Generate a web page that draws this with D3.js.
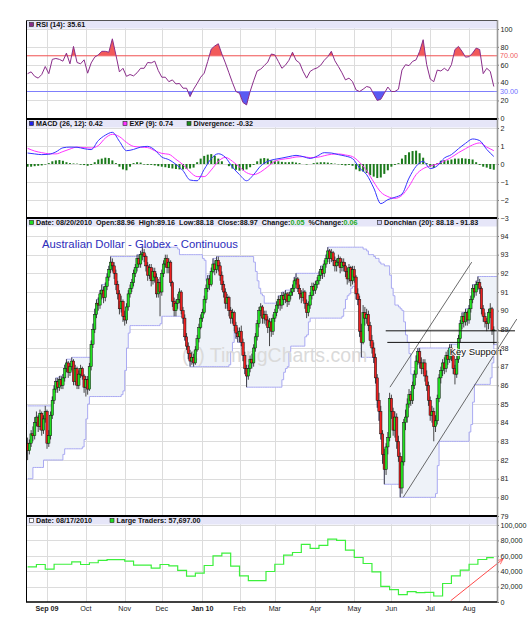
<!DOCTYPE html>
<html>
<head>
<meta charset="utf-8">
<title>Australian Dollar - Globex - Continuous</title>
<script src="https://d3js.org/d3.v7.min.js"></script>
<style>
  body { margin: 0; background: #fff; }
  svg text { font-family: "Liberation Sans", Arial, sans-serif; }
</style>
</head>
<body>
<svg id="chart" width="527" height="625"></svg>
<script>
// ---- data ----
// daily candles, one value per weekday from Aug 17 2009 to Aug 20 2010
var firstOpen = 82.9;
var closes = [
  82.5, 82.9, 83.4, 83.3, 84.0,  84.3, 83.8, 84.5, 83.6, 84.2,  84.6, 82.9, 83.3, 84.4, 85.2,
  85.8, 86.2, 85.9, 86.3, 86.0,  86.4, 86.9, 87.2, 86.7, 87.0,  87.3, 86.2, 86.9, 86.0, 86.6,
  86.9, 86.5, 85.9, 86.3, 85.8,  87.0, 88.2, 89.0, 89.8, 90.4,  90.3, 90.9, 91.1, 90.7, 91.3,
  91.8, 92.2, 92.6, 92.4, 92.0,  91.4, 90.9, 90.1, 90.5, 89.7,  89.5, 90.2, 90.9, 91.2, 91.5,
  92.0, 92.3, 92.8, 92.5, 93.0,  93.1, 92.9, 92.4, 91.9, 92.3,  91.6, 92.1, 91.8, 90.9, 91.5,
  91.0, 92.0, 92.5, 92.8, 92.3,  92.6, 91.5, 90.5, 90.0, 90.4,  90.6, 91.0, 90.0, 89.6, 88.6,
  88.1, 87.7, 87.3, 87.5, 87.2,  87.9, 88.5, 89.1, 89.6, 89.9,  90.6, 91.2, 91.7, 91.4, 92.1,
  92.5, 92.2, 92.7, 92.4, 91.9,  91.4, 91.0, 90.4, 90.7, 90.0,  89.6, 89.9, 89.2, 88.8, 88.6,
  88.9, 88.3, 87.6, 86.9, 86.5,  86.9, 87.4, 87.2, 88.0, 88.6,  89.3, 90.0, 90.2, 89.6, 89.8,
  89.5, 89.1, 89.4, 88.9, 89.6,  89.9, 90.3, 90.6, 90.3, 90.8,  90.6, 90.9, 90.5, 90.8, 91.0,
  91.2, 91.6, 91.7, 91.2, 90.9,  90.7, 91.0, 90.4, 89.9, 90.3,  90.8, 91.3, 91.1, 91.4, 91.6,
  91.9, 92.2, 92.0, 92.5, 92.8,  93.2, 92.8, 93.1, 92.7, 92.4,  92.6, 92.8, 92.3, 92.6, 92.4,
  92.1, 91.7, 92.3, 91.6, 92.2,  91.8, 90.9, 90.6, 88.9, 88.3,  89.9, 89.6, 89.8, 89.2, 88.4,
  88.0, 87.5, 86.4, 85.2, 84.6,  83.4, 82.3, 81.5, 82.7, 83.2,  85.3, 84.6, 83.6, 84.3, 83.0,
  82.2, 80.5, 81.9, 84.0, 84.3,  85.0, 85.5, 85.2, 86.0, 86.6,  87.3, 87.8, 87.2, 86.9, 87.2,
  86.5, 86.0, 85.2, 84.4, 84.6,  83.8, 84.1, 85.3, 86.4, 86.8,  87.2, 86.9, 87.6, 87.4, 88.0,
  87.6, 86.9, 86.6, 87.4, 88.5,  89.3, 89.7, 89.4, 89.9, 89.5,  90.1, 90.6, 91.2, 91.0, 91.4,
  91.5, 91.2, 90.1, 89.7, 89.4,  89.3, 89.9, 90.1, 88.92, 88.97
];
var highs = [
  83.2, 83.1, 83.6, 83.8, 84.3,  84.6, 84.4, 84.7, 84.6, 84.4,  84.9, 84.7, 83.6, 84.6, 85.4,
  86.0, 86.4, 86.4, 86.5, 86.5,  86.6, 87.1, 87.4, 87.3, 87.2,  87.5, 87.4, 87.1, 87.0, 86.8,
  87.1, 87.0, 86.6, 86.5, 86.5,  87.2, 88.4, 89.3, 90.1, 90.6,  90.7, 91.1, 91.4, 91.3, 91.5,
  92.0, 92.4, 92.9, 92.8, 92.6,  92.2, 91.6, 91.1, 90.8, 90.6,  90.0, 90.4, 91.1, 91.4, 91.7,
  92.2, 92.5, 93.0, 93.0, 93.2,  93.4, 93.3, 93.0, 92.6, 92.5,  92.5, 92.3, 92.3, 92.0, 91.7,
  91.8, 92.2, 92.7, 93.0, 93.0,  92.8, 92.7, 91.6, 90.7, 90.6,  90.9, 91.2, 91.1, 90.2, 89.8,
  88.8, 88.3, 87.9, 87.8, 87.7,  88.1, 88.7, 89.3, 89.8, 90.1,  90.8, 91.4, 91.9, 91.9, 92.3,
  92.8, 92.7, 92.9, 92.9, 92.6,  92.1, 91.6, 91.2, 90.9, 90.8,  90.2, 90.1, 90.0, 89.4, 89.1,
  89.1, 89.2, 88.5, 87.8, 87.1,  87.1, 87.6, 87.7, 88.2, 88.8,  89.5, 90.2, 90.4, 90.3, 90.0,
  90.0, 89.7, 89.6, 89.6, 89.8,  90.1, 90.5, 90.8, 90.8, 91.0,  91.0, 91.1, 91.0, 91.0, 91.2,
  91.4, 91.8, 92.0, 91.8, 91.4,  91.1, 91.2, 91.1, 90.6, 90.5,  91.0, 91.5, 91.5, 91.6, 91.8,
  92.1, 92.4, 92.4, 92.7, 93.0,  93.4, 93.3, 93.3, 93.2, 92.9,  92.8, 93.0, 92.9, 92.8, 92.8,
  92.6, 92.3, 92.5, 92.4, 92.4,  92.4, 91.9, 91.2, 90.8, 89.3,  90.3, 90.2, 90.1, 90.0, 89.4,
  88.7, 88.3, 87.7, 86.6, 85.6,  84.9, 83.6, 82.6, 82.9, 83.5,  85.6, 85.5, 84.8, 84.6, 84.5,
  83.3, 82.4, 82.2, 84.2, 84.7,  85.3, 85.8, 85.7, 86.2, 86.8,  87.6, 88.0, 88.0, 87.5, 87.4,
  87.4, 86.8, 86.2, 85.4, 84.9,  84.8, 84.4, 85.5, 86.6, 87.0,  87.4, 87.5, 87.8, 87.9, 88.2,
  88.2, 87.8, 87.1, 87.6, 88.7,  89.5, 89.9, 89.9, 90.1, 90.0,  90.3, 90.8, 91.4, 91.4, 91.6,
  91.83, 91.7, 91.3, 90.3, 89.9,  89.6, 90.1, 90.4, 90.2, 89.16
];
var lows = [
  82.0, 82.3, 82.7, 83.0, 83.1,  83.8, 83.5, 83.6, 83.3, 83.4,  84.0, 82.6, 82.7, 83.1, 84.2,
  85.0, 85.6, 85.6, 85.7, 85.8,  85.8, 86.2, 86.7, 86.4, 86.5,  86.8, 86.0, 86.0, 85.8, 85.8,
  86.4, 86.3, 85.6, 85.4, 85.5,  85.7, 86.8, 88.0, 88.8, 89.6,  90.0, 90.1, 90.6, 90.4, 90.5,
  91.1, 91.6, 92.0, 92.1, 91.7,  91.1, 90.6, 89.8, 89.9, 89.4,  89.2, 89.3, 90.0, 90.7, 91.0,
  91.3, 91.8, 92.1, 92.3, 92.3,  92.7, 92.6, 92.1, 91.6, 91.7,  91.3, 91.4, 91.5, 90.7, 90.7,
  89.7, 90.8, 91.8, 92.3, 92.0,  92.0, 91.3, 90.2, 89.7, 89.7,  90.1, 90.4, 89.8, 89.3, 88.4,
  87.9, 87.4, 87.0, 87.1, 87.0,  87.1, 87.8, 88.3, 89.0, 89.4,  89.8, 90.4, 91.0, 91.1, 91.3,
  92.0, 91.9, 92.0, 92.1, 91.6,  91.1, 90.7, 90.1, 90.1, 89.7,  89.3, 89.3, 88.9, 88.5, 88.3,
  88.3, 88.1, 87.3, 86.6, 85.9,  86.3, 86.7, 86.9, 87.0, 87.8,  88.4, 89.1, 89.7, 89.3, 89.3,
  89.2, 88.8, 88.1, 88.6, 88.7,  89.4, 89.7, 90.1, 90.0, 90.1,  90.3, 90.4, 90.2, 90.3, 90.6,
  90.8, 91.0, 91.4, 91.0, 90.6,  90.4, 90.5, 90.1, 89.6, 89.7,  90.1, 90.6, 90.8, 90.9, 91.2,
  91.4, 91.7, 91.7, 91.8, 92.3,  92.6, 92.5, 92.6, 92.4, 92.1,  92.1, 92.4, 92.0, 92.1, 92.1,
  91.8, 91.4, 91.5, 91.3, 91.4,  91.5, 90.6, 90.3, 88.6, 87.5,  88.2, 89.2, 89.3, 88.9, 88.1,
  87.7, 87.2, 86.1, 84.8, 84.1,  83.1, 81.8, 80.7, 81.2, 82.3,  83.0, 84.2, 83.3, 83.2, 82.6,
  81.9, 80.0, 80.2, 81.7, 83.6,  84.0, 84.8, 84.9, 85.0, 85.8,  86.4, 87.1, 86.9, 86.6, 86.6,
  86.2, 85.7, 84.9, 84.1, 84.0,  83.0, 83.5, 83.9, 85.1, 86.1,  86.5, 86.6, 86.7, 87.1, 87.2,
  87.3, 86.6, 86.05, 86.4, 87.2,  88.3, 89.0, 89.1, 89.2, 89.2,  89.3, 89.9, 90.4, 90.7, 90.8,
  91.1, 90.9, 89.8, 89.4, 89.1,  88.9, 89.0, 89.6, 88.7, 88.18
];
// the 19 sessions before the first candle (only feed the 20-day Donchian channel)
var priorHighs = [82.6, 82.4, 81.9, 82.3, 82.9, 83.1, 83.4, 82.8, 83.6, 84.0, 83.9, 84.3, 84.6, 84.9, 84.5, 84.2, 83.8, 83.5, 83.2];
var priorLows  = [81.8, 81.4, 81.0, 81.7, 81.9, 82.0, 81.9, 82.3, 81.6, 82.7, 83.2, 83.4, 83.7, 84.0, 83.6, 83.3, 82.9, 82.6, 82.4];

// RSI (14), every 2nd session
var rsiEvery2 = [
  50, 52, 47, 45, 49, 58, 50, 66, 67, 66,
  64, 73, 61, 80.5, 62.5, 61, 65.5, 50.5, 62, 68.5,
  71, 75, 75, 74, 89, 71, 52, 56, 47, 49,
  47.5, 51, 56, 56, 62.5, 62, 64, 53.5, 46, 46,
  41, 43, 38.5, 39, 33.7, 33.7, 24.3, 32.6, 39, 46,
  50.5, 63.7, 77.5, 81, 83.5, 72, 62, 51, 40, 30,
  28, 17.6, 15, 30, 42, 53, 55, 59, 63, 72,
  71, 63.7, 56, 59.5, 65, 74, 65, 62, 52.5, 45,
  52.5, 55, 56.5, 59.5, 65, 69, 75, 64.4, 58, 51,
  43, 45, 41, 31.8, 30, 32.6, 35.6, 34.5, 27, 20,
  21.3, 28, 35, 30, 30, 32.6, 54, 60, 59, 63.7,
  65.5, 75, 88, 60, 44, 41, 54, 53, 56, 53,
  60, 77, 80.5, 75, 68.5, 69, 73, 78.6, 77, 50,
  56, 52.5, 35.61
];
// MACD (26,12) and its EXP (9), every 4th session
var macdEvery4 = [
  0.61, 0.56, 0.52, 0.54, 0.67, 0.9, 0.94, 0.93, 0.85, 0.8,
  1.3, 1.6, 1.76, 1.26, 0.74, 0.81, 0.94, 0.98, 0.78, 0.39,
  0.24, -0.02, -0.37, -0.89, -0.93, -0.3, 0.3, 0.57, 0.37, -0.17,
  -0.59, -0.93, -0.59, -0.11, 0.15, 0.26, 0.33, 0.41, 0.48, 0.41,
  0.31, 0.44, 0.63, 0.61, 0.52, 0.44, 0.3, -0.22, -0.59, -1.33,
  -2.2, -1.98, -1.85, -1.67, -0.78, -0.13, 0.15, -0.25, -0.1, 0.33,
  0.52, 0.85, 1.15, 1.39, 1.3, 0.81, 0.42
];
var expEvery4 = [
  0.87, 0.72, 0.63, 0.57, 0.56, 0.69, 0.83, 0.94, 0.91, 0.89,
  1.02, 1.44, 1.65, 1.52, 1.2, 0.98, 0.94, 0.91, 0.74, 0.59,
  0.54, 0.26, -0.04, -0.44, -0.7, -0.7, -0.33, 0.15, 0.37, 0.15,
  -0.17, -0.48, -0.59, -0.44, -0.15, 0.15, 0.26, 0.31, 0.39, 0.41,
  0.35, 0.37, 0.46, 0.54, 0.56, 0.5, 0.41, 0.09, -0.37, -1.0,
  -1.56, -1.81, -1.91, -1.74, -1.24, -0.59, -0.26, -0.11, 0, 0.17,
  0.37, 0.63, 0.85, 1.06, 1.17, 0.94, 0.74
];
// divergence histogram, every 2nd session
var divEvery2 = [
  -0.15, -0.15, -0.12, -0.1, -0.08, -0.03, 0.05, 0.15, 0.2, 0.22,
  0.18, 0.1, 0.05, 0.03, 0.02, -0.04, -0.06, -0.1, -0.05, 0.1,
  0.25, 0.3, 0.35, 0.33, 0.2, 0.05, -0.15, -0.3, -0.35, -0.15,
  0.05, 0.1, 0.08, -0.03, -0.05, -0.05, -0.08, -0.12, -0.15, -0.18,
  -0.22, -0.25, -0.28, -0.3, -0.3, -0.28, -0.25, -0.2, 0.1, 0.3,
  0.45, 0.52, 0.55, 0.45, 0.3, 0.15, 0, -0.12, -0.25, -0.32,
  -0.37, -0.35, -0.3, -0.18, -0.05, 0.15, 0.3, 0.33, 0.3, 0.2,
  0.18, 0.15, 0.12, 0.1, 0.1, 0.12, 0.08, 0.05, 0, -0.03,
  0, 0.05, 0.08, 0.1, 0.1, 0.08, 0.05, 0.02, -0.02, -0.05,
  -0.08, -0.05, -0.1, -0.3, -0.4, -0.42, -0.5, -0.62, -0.7, -0.78,
  -0.75, -0.55, -0.35, -0.15, -0.05, 0.05, 0.3, 0.5, 0.65, 0.72,
  0.74, 0.6, 0.35, 0.05, -0.15, -0.22, 0.05, 0.18, 0.22, 0.2,
  0.25, 0.3, 0.3, 0.32, 0.3, 0.28, 0.25, 0.1, -0.05, -0.15,
  -0.2, -0.28, -0.32
];
// large traders net position, weekly
var largeTraders = [
  45500, 48700, 42600, 49000, 49000, 52000, 48700, 51000, 54000, 55000,
  55000, 53000, 48000, 47800, 44000, 48700, 47000, 41000, 33500, 37400,
  47400, 60000, 63500, 46500, 34000, 27800, 27800, 39600, 49000, 61000,
  64300, 74800, 69600, 73500, 81700, 80000, 67400, 57800, 50000, 39000,
  20400, 16000, 9600, 13500, 12200, 12500, 7800, 24000, 34000, 41300,
  49000, 55200, 57700
];
var monthLabels = ["Sep 09", "Oct", "Nov", "Dec", "Jan 10", "Feb", "Mar", "Apr", "May", "Jun", "Jul", "Aug"];
var rsiTicks = [0, 20, 40, 60, 80, 100];
var macdTicks = [-3, -2, -1, 0, 1, 2];
var priceTicks = d3.range(79, 95);
var traderTicks = [0, 20000, 40000, 60000, 80000, 100000];

// hand drawn annotations, in session index / value units
var channelUpper = [[205.2, 85.9], [251.5, 92.6]];
var channelLower = [[212.7, 80.0], [277, 89.55]];
var supportLines = [[[202.8, 88.92], [276, 88.92]], [[203.7, 88.3], [266.6, 88.3]]];
var supportLabel = {i: 239, v: 87.65, text: "Key Support"};
var traderArrow = [[239.6, 1700], [269.2, 55800]];

// ---- setup ----
var svg = d3.select("#chart");
var L = 26, R = 497;

var dates = [];
for (var d = new Date(2009, 7, 17); dates.length < closes.length; d.setDate(d.getDate() + 1)) {
  if (d.getDay() !== 0 && d.getDay() !== 6) dates.push(new Date(d));
}
var monthStarts = [];
dates.forEach(function(dt, i) {
  if (i > 0 && dt.getMonth() !== dates[i - 1].getMonth()) monthStarts.push(i);
});

var candles = closes.map(function(c, i) {
  return {i: i, o: i ? closes[i - 1] : firstOpen, h: highs[i], l: lows[i], c: c};
});

var allH = priorHighs.concat(highs), allL = priorLows.concat(lows), off = priorHighs.length;
var donchian = closes.map(function(c, i) {
  var a = i + off - 19, b = i + off + 1;
  return {i: i, hi: d3.max(allH.slice(a, b)), lo: d3.min(allL.slice(a, b))};
});

var x = d3.scaleLinear().domain([0, 264]).range([27.6, 493.8]);
var yR = d3.scaleLinear().domain([0, 100]).range([118.3, 29]);
var yM = d3.scaleLinear().domain([-3, 2]).range([218, 128]);
var yP = d3.scaleLinear().domain([79, 94]).range([516, 236]);
var yL = d3.scaleLinear().domain([0, 100000]).range([602, 525]);

var panels = [
  {id: "rsi", top: 20, bottom: 119, y: yR, ticks: rsiTicks, fmt: d3.format("d")},
  {id: "macd", top: 119, bottom: 218, y: yM, ticks: macdTicks, fmt: d3.format("d")},
  {id: "price", top: 218, bottom: 516, y: yP, ticks: priceTicks, fmt: d3.format("d")},
  {id: "cot", top: 516, bottom: 602, y: yL, ticks: traderTicks, fmt: d3.format(",")}
];

var defs = svg.append("defs");
panels.forEach(function(p) {
  defs.append("clipPath").attr("id", "clip-" + p.id)
    .append("rect").attr("x", L).attr("y", p.top).attr("width", R - L).attr("height", p.bottom - p.top);
});
defs.append("marker").attr("id", "arrow").attr("viewBox", "0 0 10 10")
  .attr("refX", 9).attr("refY", 5).attr("markerWidth", 6).attr("markerHeight", 6)
  .attr("orient", "auto")
  .append("path").attr("d", "M0,1 L9,5 L0,9").attr("fill", "none").attr("stroke", "#ff4a4a").attr("stroke-width", 1.2);

// grids, header bands, axes
panels.forEach(function(p) {
  var g = svg.append("g");
  g.selectAll(null).data(p.ticks.filter(function(t) { var yy = p.y(t); return yy > p.top + 8 && yy < p.bottom - 1; }))
    .join("line")
    .attr("x1", L).attr("x2", R)
    .attr("y1", function(t) { return Math.round(p.y(t)) + 0.5; })
    .attr("y2", function(t) { return Math.round(p.y(t)) + 0.5; })
    .attr("stroke", "#dcdcdc");
  g.selectAll(null).data(monthStarts).join("line")
    .attr("x1", function(i) { return Math.round(x(i)) + 0.5; })
    .attr("x2", function(i) { return Math.round(x(i)) + 0.5; })
    .attr("y1", p.top).attr("y2", p.bottom)
    .attr("stroke", "#dcdcdc");
  p.layer = svg.append("g").attr("clip-path", "url(#clip-" + p.id + ")");
  svg.append("g").attr("transform", "translate(" + R + ",0)")
    .call(d3.axisRight(p.y).tickValues(p.ticks).tickSize(2).tickPadding(1.5).tickFormat(p.fmt))
    .call(function(a) {
      a.select(".domain").remove();
      a.selectAll(".tick line").attr("stroke", "#777");
      a.selectAll("text").attr("font-size", 7.2).attr("fill", "#222").attr("font-family", "Liberation Sans, Arial, sans-serif");
    });
});

// RSI panel
var rsiPts = rsiEvery2.map(function(v, k) { return {i: 2 * k, v: v}; });
var rl = panels[0].layer;
rl.append("line").attr("x1", L).attr("x2", R).attr("y1", yR(70)).attr("y2", yR(70)).attr("stroke", "#f05a5a");
rl.append("line").attr("x1", L).attr("x2", R).attr("y1", yR(30)).attr("y2", yR(30)).attr("stroke", "#8c8cff");
defs.append("clipPath").attr("id", "clip-ob").append("rect").attr("x", L).attr("y", 20).attr("width", R - L).attr("height", yR(70) - 20);
defs.append("clipPath").attr("id", "clip-os").append("rect").attr("x", L).attr("y", yR(30)).attr("width", R - L).attr("height", 119 - yR(30));
rl.append("path").datum(rsiPts).attr("clip-path", "url(#clip-ob)")
  .attr("d", d3.area().x(function(p) { return x(p.i); }).y0(yR(70)).y1(function(p) { return yR(p.v); }))
  .attr("fill", "#f25a5a");
rl.append("path").datum(rsiPts).attr("clip-path", "url(#clip-os)")
  .attr("d", d3.area().x(function(p) { return x(p.i); }).y0(yR(30)).y1(function(p) { return yR(p.v); }))
  .attr("fill", "#5a5af2");
rl.append("path").datum(rsiPts)
  .attr("d", d3.line().x(function(p) { return x(p.i); }).y(function(p) { return yR(p.v); }))
  .attr("fill", "none").attr("stroke", "#8a2d8a").attr("stroke-width", 1);
svg.append("text").attr("x", 500).attr("y", yR(70) + 2.5).attr("font-size", 7.2).attr("fill", "#f06060").text("70.00");
svg.append("text").attr("x", 500).attr("y", yR(30) + 2.5).attr("font-size", 7.2).attr("fill", "#7070ff").text("30.00");

// MACD panel
var ml = panels[1].layer;
ml.selectAll(null).data(divEvery2).join("rect")
  .attr("x", function(v, k) { return x(2 * k) - 1; })
  .attr("width", 2)
  .attr("y", function(v) { return Math.min(yM(0), yM(v)); })
  .attr("height", function(v) { return Math.abs(yM(v) - yM(0)); })
  .attr("fill", "#1b7a1b");
var lineM = d3.line().curve(d3.curveMonotoneX).x(function(v, k) { return x(Math.min(4 * k, 264)); }).y(function(v) { return yM(v); });
ml.append("path").datum(expEvery4).attr("d", lineM).attr("fill", "none").attr("stroke", "#ff33ff").attr("stroke-width", 1);
ml.append("path").datum(macdEvery4).attr("d", lineM).attr("fill", "none").attr("stroke", "#3535ff").attr("stroke-width", 1);

// price panel
var pl = panels[2].layer;
var dch = donchian.concat([{i: x.invert(R), hi: donchian[donchian.length - 1].hi, lo: donchian[donchian.length - 1].lo}]);
pl.append("path").datum(dch)
  .attr("d", d3.area().curve(d3.curveStepAfter).x(function(p) { return x(p.i); })
    .y0(function(p) { return yP(p.lo); }).y1(function(p) { return yP(p.hi); }))
  .attr("fill", "#eef2f8");
["hi", "lo"].forEach(function(k) {
  pl.append("path").datum(dch)
    .attr("d", d3.line().curve(d3.curveStepAfter).x(function(p) { return x(p.i); }).y(function(p) { return yP(p[k]); }))
    .attr("fill", "none").attr("stroke", "#a9a9f2").attr("stroke-width", 1);
});
pl.append("text").attr("x", 182).attr("y", 362).attr("font-size", 19.5).attr("fill", "#dadada")
  .text("(c) TimingCharts.com");
pl.append("text").attr("x", 42).attr("y", 248).attr("font-size", 11.3).attr("fill", "#2d2dbb")
  .text("Australian Dollar - Globex - Continuous");

var cg = pl.append("g");
cg.selectAll(null).data(candles).join("line")
  .attr("x1", function(c) { return x(c.i); }).attr("x2", function(c) { return x(c.i); })
  .attr("y1", function(c) { return yP(Math.max(c.h, c.o, c.c)); })
  .attr("y2", function(c) { return yP(Math.min(c.l, c.o, c.c)); })
  .attr("stroke", "#333").attr("stroke-width", 0.9);
cg.selectAll(null).data(candles).join("rect")
  .attr("x", function(c) { return x(c.i) - 1.2; })
  .attr("width", 2.4)
  .attr("y", function(c) { return yP(Math.max(c.o, c.c)); })
  .attr("height", function(c) { return Math.max(0.8, Math.abs(yP(c.o) - yP(c.c))); })
  .attr("fill", function(c) { return c.c >= c.o ? "#22e022" : "#ee2020"; })
  .attr("stroke", "#111").attr("stroke-width", 0.5);

// trend / support annotations
var annot = svg.append("g");
[channelUpper, channelLower].forEach(function(seg) {
  annot.append("line")
    .attr("x1", x(seg[0][0])).attr("y1", yP(seg[0][1]))
    .attr("x2", x(seg[1][0])).attr("y2", yP(seg[1][1]))
    .attr("stroke", "#444").attr("stroke-width", 0.8);
});
supportLines.forEach(function(seg) {
  annot.append("line")
    .attr("x1", x(seg[0][0])).attr("y1", yP(seg[0][1]))
    .attr("x2", x(seg[1][0])).attr("y2", yP(seg[1][1]))
    .attr("stroke", "#111").attr("stroke-width", 1);
});
annot.append("text").attr("x", x(supportLabel.i)).attr("y", yP(supportLabel.v))
  .attr("font-family", "Liberation Serif, Times New Roman, serif").attr("font-size", 9.5)
  .attr("fill", "#111").attr("stroke", "#fff").attr("stroke-width", 2)
  .attr("stroke-opacity", 0.8).attr("paint-order", "stroke")
  .text(supportLabel.text);

// large traders panel
var tl = panels[3].layer;
var ltPts = largeTraders.map(function(v, m) { return {i: 5 * m, v: v}; });
ltPts.push({i: 264, v: largeTraders[largeTraders.length - 1]});
tl.append("path").datum(ltPts)
  .attr("d", d3.line().curve(d3.curveStepAfter).x(function(p) { return x(p.i); }).y(function(p) { return yL(p.v); }))
  .attr("fill", "none").attr("stroke", "#3cf03c").attr("stroke-width", 1.2);
svg.append("line")
  .attr("x1", x(traderArrow[0][0])).attr("y1", yL(traderArrow[0][1]))
  .attr("x2", x(traderArrow[1][0])).attr("y2", yL(traderArrow[1][1]))
  .attr("stroke", "#ff4a4a").attr("stroke-width", 1).attr("marker-end", "url(#arrow)");

// header bands
var headers = [
  {top: 20, items: [{x: 29, sq: "#8a2d8a", parts: [["RSI (14): 35.61"]]}]},
  {top: 119, items: [
    {x: 29, sq: "#2020ee", parts: [["MACD (26, 12): 0.42"]]},
    {x: 122.5, sq: "#ff33ff", parts: [["EXP (9): 0.74"]]},
    {x: 186.5, sq: "#1b8a1b", parts: [["Divergence: -0.32"]]}]},
  {top: 218, items: [
    {x: 29, sq: "#22dd22", parts: [["Date: 08/20/2010  Open:88.96  High:89.16  Low:88.18  Close:88.97  Change:"], ["0.05", "#22aa22"], ["  %Change:"], ["0.06", "#22aa22"]]},
    {x: 377, sq: "#c8c8f4", parts: [["Donchian (20): 88.18 - 91.83"]]}]},
  {top: 516, items: [
    {x: 29, sq: "#ffffff", parts: [["Date: 08/17/2010"]]},
    {x: 109.5, sq: "#22dd22", parts: [["Large Traders: 57,697.00"]]}]}
];
headers.forEach(function(h) {
  svg.append("rect").attr("x", L + 0.5).attr("y", h.top + 1).attr("width", R - L - 0.5).attr("height", 7.5).attr("fill", "#e6e6f8");
  h.items.forEach(function(it) {
    svg.append("rect").attr("x", it.x + 0.5).attr("y", h.top + 2.5).attr("width", 4).attr("height", 4)
      .attr("fill", it.sq).attr("stroke", "#222").attr("stroke-width", 0.6);
    var t = svg.append("text").attr("x", it.x + 7).attr("y", h.top + 7.3)
      .attr("font-size", 7.2).attr("font-weight", "bold").attr("fill", "#111")
      .attr("xml:space", "preserve").style("white-space", "pre");
    it.parts.forEach(function(pt) {
      t.append("tspan").attr("fill", pt[1] || "#111").text(pt[0]);
    });
  });
});

// frame
svg.append("line").attr("x1", L + 0.5).attr("x2", L + 0.5).attr("y1", 20).attr("y2", 602).attr("stroke", "#000");
svg.append("line").attr("x1", R + 0.5).attr("x2", R + 0.5).attr("y1", 20).attr("y2", 602).attr("stroke", "#999").attr("stroke-width", 1.6);
svg.append("line").attr("x1", L).attr("x2", R).attr("y1", 20.5).attr("y2", 20.5).attr("stroke", "#555");
[119, 218, 516].forEach(function(yy) {
  svg.append("line").attr("x1", L).attr("x2", R).attr("y1", yy).attr("y2", yy).attr("stroke", "#000").attr("stroke-width", 2);
});
svg.append("line").attr("x1", L).attr("x2", R).attr("y1", 602).attr("y2", 602).attr("stroke", "#000").attr("stroke-width", 1.5);

// month labels
svg.selectAll(null).data(monthStarts).join("text")
  .attr("x", function(i) { return x(i); }).attr("y", 611)
  .attr("text-anchor", "middle").attr("font-size", 7.2)
  .attr("font-weight", function(i, k) { return monthLabels[k].indexOf(" ") > 0 ? "bold" : "normal"; })
  .attr("fill", "#222")
  .text(function(i, k) { return monthLabels[k]; });
</script>
</body>
</html>
